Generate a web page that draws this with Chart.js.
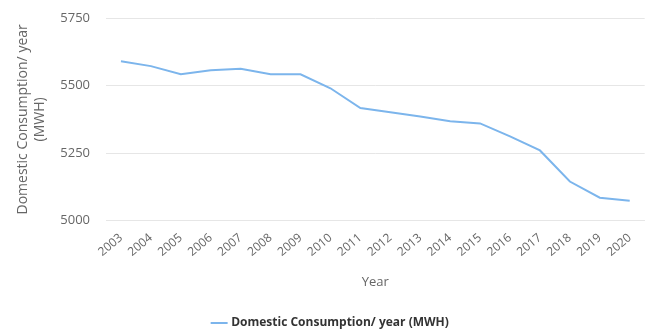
<!DOCTYPE html>
<html lang="en">
<head>
<meta charset="UTF-8">
<title>Domestic Consumption</title>
<script src="https://cdn.jsdelivr.net/npm/chart.js"></script>
<style>
  html, body { margin: 0; padding: 0; background: #fff; }
  #wrap { width: 649px; height: 329px; position: relative; }
</style>
</head>
<body>
<div id="wrap">
  <canvas id="consumoChart"></canvas>
</div>

<script>
// anos e consumo domestico (MWH)
const anos = ['2003', '2004', '2005', '2006', '2007', '2008', '2009', '2010', '2011',
              '2012', '2013', '2014', '2015', '2016', '2017', '2018', '2019', '2020'];
const consumo = [5590, 5572, 5542, 5557, 5562, 5542, 5542, 5490, 5417,
                 5401, 5386, 5368, 5360, 5312, 5260, 5145, 5085, 5074];
const ticksY = [5000, 5250, 5500, 5750];

const fonte = '"Open Sans", "DejaVu Sans", sans-serif';

const ctx = document.getElementById('consumoChart').getContext('2d');

new Chart(ctx, {
    type: 'line',
    data: {
        labels: anos,
        datasets: [{
            label: 'Domestic Consumption/ year (MWH)',
            data: consumo,
            borderColor: '#7cb5ec',
            backgroundColor: '#7cb5ec',
            borderWidth: 2,
            pointRadius: 0,
            tension: 0
        }]
    },
    options: {
        responsive: true,
        maintainAspectRatio: false,
        animation: false,
        layout: {
            // bottom negativo para a legenda ficar mais perto da borda
            padding: { top: 18, right: 1, left: 14, bottom: -10 }
        },
        plugins: {
            tooltip: { enabled: false },
            legend: {
                position: 'bottom',
                labels: {
                    usePointStyle: true,
                    pointStyle: 'line',
                    boxWidth: 20,
                    padding: 3,
                    color: '#333333',
                    font: { family: fonte, size: 12, weight: 'bold' }
                }
            }
        },
        scales: {
            x: {
                offset: true,
                grid: { display: false, drawTicks: false },
                border: { display: true, color: '#e6e6e6' },
                ticks: {
                    color: '#666666',
                    font: { family: fonte, size: 12 },
                    minRotation: 40,
                    maxRotation: 40,
                    padding: 10,
                    autoSkip: false
                },
                title: {
                    display: true,
                    text: 'Year',
                    color: '#666666',
                    font: { family: fonte, size: 13 },
                    padding: { top: 5, bottom: 24 }
                }
            },
            y: {
                min: 5000,
                max: 5750,
                afterBuildTicks: axis => {
                    axis.ticks = ticksY.map(v => ({ value: v }));
                },
                // largura fixa do eixo (titulo + rotulos) e sem folga extra no topo
                afterFit: axis => {
                    axis.width = 92;
                    axis.paddingTop = 0;
                },
                grid: { color: '#e6e6e6', drawTicks: false },
                border: { display: false },
                ticks: {
                    color: '#666666',
                    font: { family: fonte, size: 13 },
                    padding: 16,
                    callback: v => String(v)
                },
                title: {
                    display: true,
                    text: ['Domestic Consumption/ year', '(MWH)'],
                    color: '#666666',
                    font: { family: fonte, size: 14, lineHeight: 1.25 },
                    padding: { top: 0, bottom: 0 }
                }
            }
        }
    }
});
</script>
</body>
</html>
